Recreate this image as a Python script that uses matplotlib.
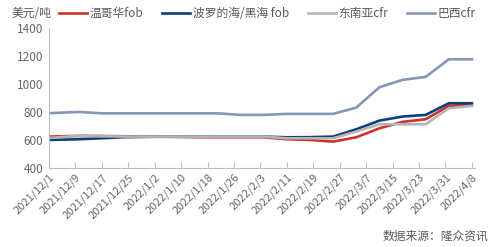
import datetime as dt
import matplotlib
matplotlib.use("Agg")
import matplotlib.pyplot as plt

plt.rcParams['font.family'] = ['Noto Sans CJK SC', 'DejaVu Sans']

# weekly dates
dates = ["2021-12-01", "2021-12-10", "2021-12-17", "2021-12-24", "2021-12-31",
         "2022-01-07", "2022-01-14", "2022-01-21", "2022-01-28", "2022-02-04",
         "2022-02-11", "2022-02-18", "2022-02-25", "2022-03-04", "2022-03-11",
         "2022-03-18", "2022-03-25", "2022-04-01", "2022-04-08"]
vancouver = [624, 629, 628, 626, 624, 622, 620, 619, 619, 619,
             605, 600, 588, 619, 683, 729, 748, 843, 852]
baltic = [600, 605, 612, 620, 622, 624, 624, 624, 624, 624,
          619, 620, 624, 676, 738, 767, 779, 862, 862]
sea = [614, 630, 626, 624, 624, 624, 624, 624, 624, 624,
       612, 612, 612, 660, 712, 712, 712, 826, 843]
brazil = [791, 800, 790, 790, 790, 790, 790, 790, 779, 779,
          786, 786, 786, 831, 976, 1029, 1050, 1176, 1176]

tick_dates = ["2021-12-01", "2021-12-09", "2021-12-17", "2021-12-25", "2022-01-02",
              "2022-01-10", "2022-01-18", "2022-01-26", "2022-02-03", "2022-02-11",
              "2022-02-19", "2022-02-27", "2022-03-07", "2022-03-15", "2022-03-23",
              "2022-03-31", "2022-04-08"]
tick_labels = ["2021/12/1", "2021/12/9", "2021/12/17", "2021/12/25", "2022/1/2",
               "2022/1/10", "2022/1/18", "2022/1/26", "2022/2/3", "2022/2/11",
               "2022/2/19", "2022/2/27", "2022/3/7", "2022/3/15", "2022/3/23",
               "2022/3/31", "2022/4/8"]

x = [dt.datetime.strptime(d, "%Y-%m-%d") for d in dates]
xt = [dt.datetime.strptime(d, "%Y-%m-%d") for d in tick_dates]

fig = plt.figure(figsize=(4.94, 2.47), dpi=100)
ax = fig.add_axes([0.099, 0.32, 0.863, 0.567])

ax.plot(x, vancouver, color='#C9352B', lw=1.9, label='温哥华fob')
ax.plot(x, baltic, color='#0E3D7E', lw=1.9, label='波罗的海/黑海 fob')
ax.plot(x, sea, color='#B5B5B5', lw=1.9, label='东南亚cfr')
ax.plot(x, brazil, color='#8497B8', lw=1.9, label='巴西cfr')

ax.set_xlim(xt[0], xt[-1] + dt.timedelta(days=1))
ax.set_ylim(400, 1400)
ax.set_yticks([400, 600, 800, 1000, 1200, 1400])
ax.set_xticks(xt)
ax.set_xticklabels(tick_labels, rotation=45, ha='right', rotation_mode='anchor')

for s in ['top', 'right']:
    ax.spines[s].set_visible(False)
for s in ['left', 'bottom']:
    ax.spines[s].set_color('#BFBFBF')
ax.tick_params(axis='x', direction='in', length=4, color='#BFBFBF',
               labelsize=8, labelcolor='#666666', pad=3)
ax.tick_params(axis='y', length=0, labelsize=8.5, labelcolor='#666666', pad=4)

fig.text(0.024, 0.945, '美元/吨', fontsize=8.5, color='#595959', va='center')
fig.legend(loc='center left', bbox_to_anchor=(0.097, 0.945), ncol=4, frameon=False,
           fontsize=8.5, handlelength=2.4, handletextpad=0.2, columnspacing=1.6,
           labelcolor='#595959')
fig.text(0.988, 0.045, '数据来源：隆众资讯', fontsize=8.5, color='#595959',
         ha='right', va='center')

fig.savefig('out.png', dpi=100)
